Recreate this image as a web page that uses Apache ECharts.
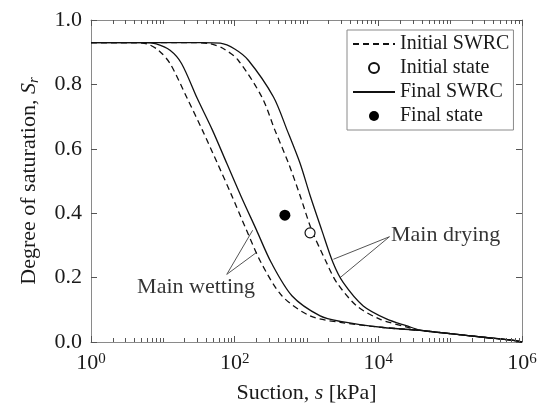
<!DOCTYPE html>
<html>
<head>
<meta charset="utf-8">
<script src="https://cdn.jsdelivr.net/npm/echarts@6/dist/echarts.min.js"></script>
<style>
html, body { margin: 0; padding: 0; background: #fff; }
#main { width: 543px; height: 412px; }
</style>
</head>
<body>
<div id="main"></div>
<script>
// SWRC curves (suction s in kPa, degree of saturation Sr)
var initWetS  = [1, 4, 6, 8.7, 12.6, 21.9, 35.5, 57.5, 89, 145, 234, 457, 1122, 2951, 11750, 38000, 100000, 316000, 759000, 1000000];
var initWetSr = [0.93, 0.93, 0.926, 0.906, 0.865, 0.756, 0.658, 0.555, 0.46, 0.349, 0.246, 0.143, 0.081, 0.061, 0.045, 0.036, 0.026, 0.014, 0.005, 0];

var finalWetS  = [1, 5.6, 8.1, 12.6, 18.2, 30.2, 49, 77.6, 123, 200, 324, 631, 1549, 2951, 11750, 38000, 100000, 316000, 759000, 1000000];
var finalWetSr = [0.93, 0.93, 0.926, 0.906, 0.865, 0.756, 0.658, 0.555, 0.452, 0.349, 0.246, 0.143, 0.081, 0.064, 0.045, 0.036, 0.026, 0.014, 0.005, 0];

var initDryS  = [1, 25, 46, 71, 112, 240, 363, 562, 813, 1175, 1905, 2630, 5012, 10470, 25120, 38000, 100000, 316000, 759000, 1000000];
var initDrySr = [0.93, 0.93, 0.926, 0.91, 0.875, 0.76, 0.658, 0.555, 0.455, 0.349, 0.246, 0.185, 0.112, 0.071, 0.046, 0.036, 0.026, 0.014, 0.005, 0];

var finalDryS  = [1, 35, 63, 100, 155, 347, 537, 813, 1122, 1622, 2344, 3236, 6166, 13180, 25120, 38000, 100000, 316000, 759000, 1000000];
var finalDrySr = [0.93, 0.93, 0.928, 0.91, 0.875, 0.761, 0.658, 0.555, 0.455, 0.349, 0.246, 0.185, 0.112, 0.071, 0.05, 0.037, 0.026, 0.014, 0.005, 0];

// states
var initState  = [1120, 0.339];
var finalState = [500, 0.394];

// annotations (data coords)
var wetLabel = [29, 0.171];
var wetArrows = [[[77.6, 0.21], [178, 0.347]], [[77.6, 0.21], [204, 0.279]]];
var dryLabel = [15000, 0.332];
var dryArrows = [[[14290, 0.327], [2370, 0.257]], [[14290, 0.327], [2940, 0.2]]];

// axis ticks
var xMajor = [1, 100, 10000, 1000000];
var xMinor = [];
[1, 10, 100, 1000, 10000, 100000].forEach(function (d) {
    for (var k = 2; k <= 10; k++) {
        if (d * k === 100 || d * k === 10000 || d * k === 1000000) continue;
        xMinor.push(d * k);
    }
});

function zip(a, b) {
    return a.map(function (v, i) { return [v, b[i]]; });
}

var FONT = 'Liberation Serif';
var AX = '#8a8a8a';
var TICK = '#555';
var TXT = '#1a1a1a';

var myChart = echarts.init(document.getElementById('main'));

function xAxisDef(pos) {
    return {
        type: 'log',
        logBase: 10,
        min: 1,
        max: 1000000,
        position: pos,
        axisLine: { show: true, onZero: false, lineStyle: { color: AX, width: 1 } },
        axisTick: {
            inside: true,
            length: 6,
            customValues: xMajor,
            lineStyle: { color: TICK }
        },
        axisLabel: {
            show: pos === 'bottom',
            customValues: xMajor,
            margin: 10,
            formatter: function (v) {
                return '{b|10}{s|' + Math.round(Math.log10(v)) + '}';
            },
            rich: {
                b: { fontFamily: FONT, fontSize: 22, color: TXT },
                s: { fontFamily: FONT, fontSize: 15, color: TXT, verticalAlign: 'top' }
            }
        },
        splitLine: { show: false },
        minorTick: { show: false }
    };
}

var xAxes = [xAxisDef('bottom'), xAxisDef('top')];
xAxes[0].name = 'Suction, {i|s} [kPa]';
xAxes[0].nameLocation = 'middle';
xAxes[0].nameGap = 40;
xAxes[0].nameTextStyle = {
    fontFamily: FONT, fontSize: 22, color: TXT,
    rich: { i: { fontFamily: FONT, fontSize: 22, fontStyle: 'italic', color: TXT } }
};

function yAxisDef(pos) {
    return {
        type: 'value',
        min: 0,
        max: 1,
        interval: 0.2,
        position: pos,
        axisLine: { show: true, lineStyle: { color: AX, width: 1 } },
        axisTick: { show: true, inside: true, length: 6, lineStyle: { color: TICK } },
        axisLabel: {
            show: pos === 'left',
            margin: 9,
            fontFamily: FONT,
            fontSize: 22,
            color: TXT,
            formatter: function (v) { return v.toFixed(1); }
        },
        splitLine: { show: false }
    };
}
var yAxes = [yAxisDef('left'), yAxisDef('right')];
yAxes[0].name = 'Degree of saturation, {i|S}{sub|r}';
yAxes[0].nameLocation = 'middle';
yAxes[0].nameGap = 49;
yAxes[0].nameTextStyle = {
    fontFamily: FONT, fontSize: 22, color: TXT,
    rich: {
        i: { fontFamily: FONT, fontSize: 22, fontStyle: 'italic', color: TXT },
        sub: { fontFamily: FONT, fontSize: 15, fontStyle: 'italic', color: TXT, verticalAlign: 'bottom', padding: [10, 0, 0, 0] }
    }
};

function curve(name, s, sr, dashed) {
    return {
        name: name,
        type: 'line',
        data: zip(s, sr),
        symbol: 'none',
        smooth: 0.3,
        lineStyle: { color: '#111', width: 1.3, type: dashed ? [6, 4] : 'solid' },
        itemStyle: { color: '#111' },
        z: 3
    };
}

function arrow(seg) {
    return {
        type: 'line',
        data: seg,
        symbol: 'none',
        silent: true,
        lineStyle: { color: '#555', width: 1 },
        z: 2
    };
}

function textMark(pt, txt, align) {
    return {
        type: 'scatter',
        data: [pt],
        symbolSize: 0,
        silent: true,
        label: {
            show: true,
            position: [0, 0],
            align: align,
            verticalAlign: 'middle',
            formatter: txt,
            fontFamily: FONT,
            fontSize: 22,
            color: '#000',
            textBorderWidth: 0
        }
    };
}

// minor log ticks on bottom and top, placed through the axis scale
var minorTicks = {
    type: 'custom',
    silent: true,
    clip: false,
    data: xMinor.map(function (v) { return [v, 0]; }),
    encode: { x: 0, y: 1 },
    renderItem: function (params, api) {
        var x = Math.round(api.coord([api.value(0), 0])[0]) + 0.5;
        var lo = params.coordSys.y + params.coordSys.height;
        var hi = params.coordSys.y;
        var st = { stroke: TICK, lineWidth: 1 };
        return {
            type: 'group',
            children: [
                { type: 'line', shape: { x1: x, y1: lo, x2: x, y2: lo - 4 }, style: st },
                { type: 'line', shape: { x1: x, y1: hi, x2: x, y2: hi + 4 }, style: st }
            ]
        };
    },
    z: 4
};

var series = [
    curve('Initial SWRC', initWetS, initWetSr, true),
    curve('Initial SWRC', initDryS, initDrySr, true),
    curve('Final SWRC', finalWetS, finalWetSr, false),
    curve('Final SWRC', finalDryS, finalDrySr, false),
    {
        name: 'Initial state', type: 'scatter', data: [initState], symbol: 'circle', symbolSize: 10,
        itemStyle: { color: '#fff', borderColor: '#111', borderWidth: 1.2, opacity: 1 }, z: 5
    },
    {
        name: 'Final state', type: 'scatter', data: [finalState], symbol: 'circle', symbolSize: 11,
        itemStyle: { color: '#000', opacity: 1 }, z: 5
    },
    textMark(wetLabel, 'Main wetting', 'center'),
    textMark(dryLabel, 'Main drying', 'left'),
    minorTicks
];
wetArrows.concat(dryArrows).forEach(function (seg) { series.push(arrow(seg)); });

var noDot = { color: 'rgba(0,0,0,0)', borderWidth: 0 };

option = {
    backgroundColor: '#fff',
    animation: false,
    grid: { left: 91, right: 21, top: 20, bottom: 70, containLabel: false },
    legend: {
        data: [
            { name: 'Initial SWRC', itemStyle: noDot },
            'Initial state',
            { name: 'Final SWRC', itemStyle: noDot },
            'Final state'
        ],
        orient: 'vertical',
        left: 347,
        top: 30,
        itemWidth: 42,
        itemHeight: 10,
        itemGap: 4,
        padding: [4, 4, 4, 5],
        backgroundColor: '#fff',
        borderColor: AX,
        borderWidth: 1,
        borderRadius: 0,
        textStyle: { fontFamily: FONT, fontSize: 20, color: TXT },
        selectedMode: false
    },
    xAxis: xAxes,
    yAxis: yAxes,
    series: series
};

myChart.setOption(option);
</script>
</body>
</html>
